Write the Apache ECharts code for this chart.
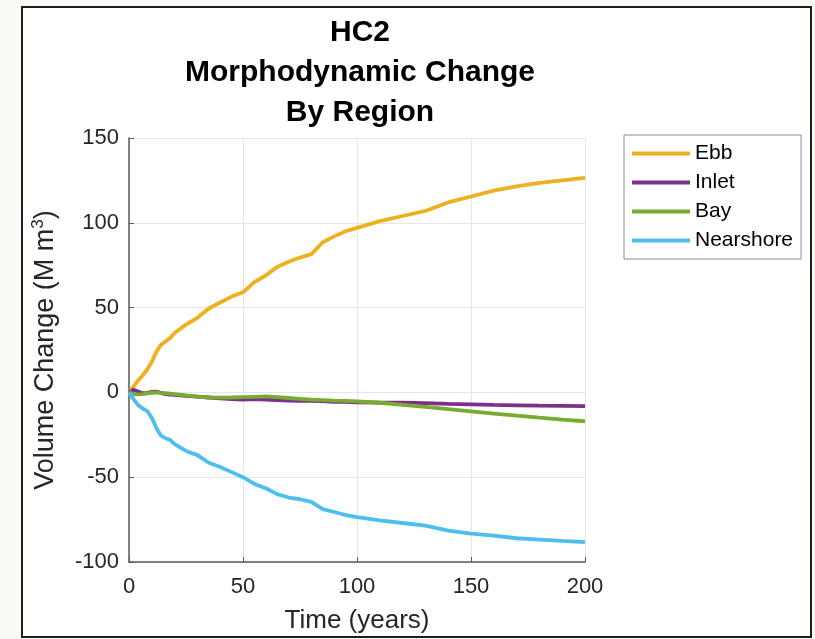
<!DOCTYPE html>
<html>
<head>
<meta charset="utf-8">
<script src="https://cdn.jsdelivr.net/npm/echarts@6/dist/echarts.min.js"></script>
<style>
html,body{margin:0;padding:0;background:#fafaf5;}
#c{width:815px;height:639px;}
</style>
</head>
<body>
<div id="c"></div>
<script>
var years = [0,2,4,6,8,10,12,14,16,18,20,25,30,35,40,45,50,55,60,65,70,75,80,85,90,95,100,110,120,130,140,150,160,170,180,190,200];
var ebb = [0,3.5,7,10,13.5,18,24,28,30,32,35,40,44,49.5,53,56.5,59,65,69,74,77,79.5,81.5,88.5,92,95,97,101,104,107,112,115.5,119,121.5,123.5,125,126.5];
var inlet = [0,1.5,0.5,-0.5,-0.3,0.3,0.5,-0.3,-1,-1.3,-1.5,-2,-2.5,-3,-3.5,-4,-4.3,-4,-4.3,-4.6,-4.8,-5,-5,-5.2,-5.5,-5.6,-5.8,-6,-6,-6.3,-6.8,-7.1,-7.4,-7.6,-7.8,-7.9,-8.1];
var bay = [0,-1,-1.2,-1,-0.6,-0.2,0,-0.3,-0.5,-0.7,-1,-1.8,-2.5,-3,-3.1,-3,-2.8,-2.6,-2.4,-2.8,-3.3,-3.8,-4.2,-4.5,-4.8,-5,-5.3,-6.1,-7.3,-8.5,-9.9,-11.2,-12.5,-13.7,-14.9,-16,-17];
var nearshore = [0,-4,-7.5,-9.5,-11,-15,-21,-25.5,-27,-28,-30.5,-34.5,-37,-41.5,-44,-47,-50,-54,-56.5,-60,-62,-63,-64.5,-68.8,-70.5,-72.3,-73.5,-75.5,-77,-78.6,-81.5,-83.3,-84.5,-86,-86.8,-87.6,-88.3];
var seriesNames = ['Ebb','Inlet','Bay','Nearshore'];
var seriesColors = ['#EDB120','#7E2F8E','#77AC30','#4DBEEE'];
var seriesValues = [ebb, inlet, bay, nearshore];

function pairs(vals){ return years.map(function(t,i){ return [t, vals[i]]; }); }

var FONT = '"Liberation Sans", Arial, Helvetica, sans-serif';
var chart = echarts.init(document.getElementById('c'), null, {renderer:'canvas'});
chart.setOption({
  backgroundColor: '#fafaf5',
  animation: false,
  graphic: [
    {type:'rect', z:-10, shape:{x:22,y:7,width:789,height:630}, style:{fill:'#ffffff', stroke:'#1e1e1e', lineWidth:2}},
    {type:'text', z:10, x:360, y:13, style:{text:'HC2\nMorphodynamic Change\nBy Region', font:'bold 30px '+FONT, fill:'#000', textAlign:'center', lineHeight:40}}
  ],
  grid: {left:129, right:230, top:138, bottom:76, containLabel:false},
  legend: {
    orient:'vertical', left:624, top:135, padding:[8,8,8,8],
    backgroundColor:'#ffffff', borderColor:'#8c8c8c', borderWidth:1,
    icon:'rect', itemWidth:58, itemHeight:4, itemGap:8,
    textStyle:{fontFamily:FONT, fontSize:21, color:'#000'},
    data: seriesNames
  },
  xAxis: {
    type:'value', min:0, max:200, interval:50,
    name:'Time (years)', nameLocation:'middle', nameGap:46,
    nameTextStyle:{fontFamily:FONT, fontSize:26, color:'#262626'},
    axisLine:{show:true, onZero:false, lineStyle:{color:'#5a5a5a', width:1.5}},
    axisTick:{show:true, inside:true, length:5, lineStyle:{color:'#5a5a5a'}},
    axisLabel:{fontFamily:FONT, fontSize:22, color:'#262626', margin:14},
    splitLine:{show:true, lineStyle:{color:'#e6e6e6', width:1}}
  },
  yAxis: {
    type:'value', min:-100, max:150, interval:50,
    name:'Volume Change (M m{sup|3})', nameLocation:'middle', nameGap:68, nameRotate:90,
    nameTextStyle:{fontFamily:FONT, fontSize:27, color:'#262626',
      rich:{sup:{fontFamily:FONT, fontSize:17, color:'#262626', verticalAlign:'top', padding:[0,0,14,0]}}},
    axisLine:{show:true, onZero:false, lineStyle:{color:'#5a5a5a', width:1.5}},
    axisTick:{show:true, inside:true, length:5, lineStyle:{color:'#5a5a5a'}},
    axisLabel:{fontFamily:FONT, fontSize:22, color:'#262626', margin:10},
    splitLine:{show:true, lineStyle:{color:'#e6e6e6', width:1}}
  },
  series: seriesNames.map(function(n,i){
    return {name:n, type:'line', data:pairs(seriesValues[i]), showSymbol:false, symbol:'none',
      smooth:false, color:seriesColors[i], lineStyle:{width:3.8, color:seriesColors[i]}, z:2+i};
  })
});
</script>
</body>
</html>
